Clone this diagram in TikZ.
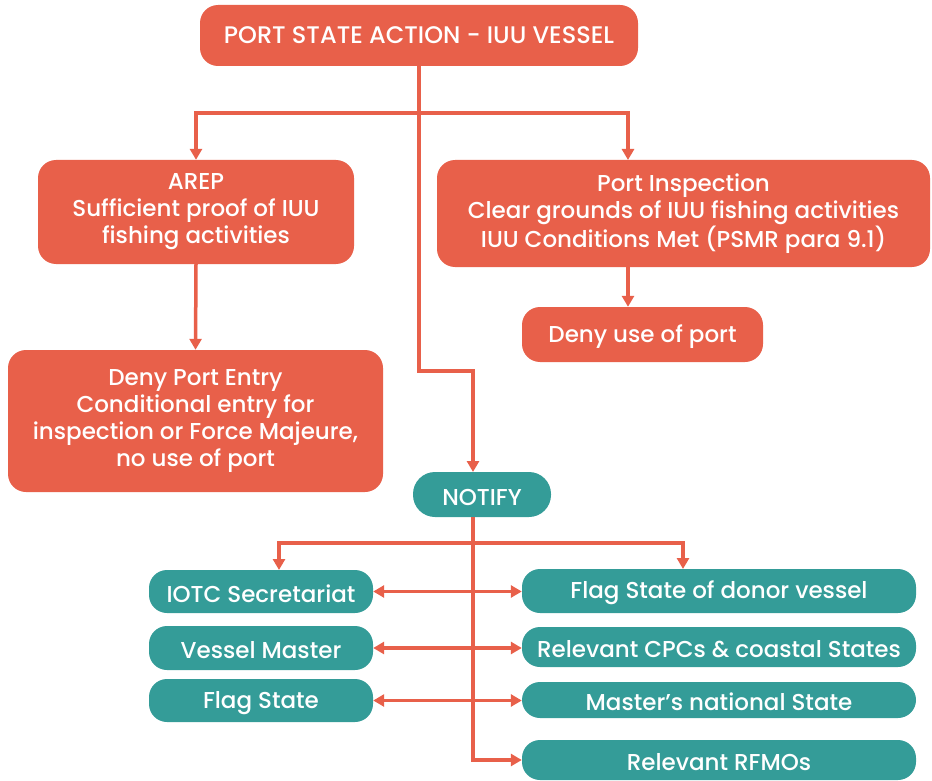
\documentclass[tikz,border=0pt]{standalone}
\usepackage{fontspec}
\setmainfont{Poppins Medium}
\usetikzlibrary{arrows.meta}
\definecolor{portred}{HTML}{E8604A}
\definecolor{notifyteal}{HTML}{349C98}

\begin{document}
\begin{tikzpicture}[x=1pt, y=-1pt, >={Triangle[length=11pt,width=12pt]},
    redbox/.style={fill=portred, text=white, rounded corners=18pt, align=center,
        inner sep=0pt, font=\fontsize{23}{27}\selectfont},
    tealbox/.style={redbox, fill=notifyteal, execute at begin node={\rule{0pt}{22pt}}},
    link/.style={portred, line width=3.5pt}]
    \useasboundingbox (0,0) rectangle (932,781);

    % port state side
    \node[redbox, minimum width=438pt, minimum height=61pt, font=\fontsize{24}{27}\selectfont] (action) at (419,35.5) {PORT STATE ACTION - IUU VESSEL};
    \node[redbox, minimum width=316pt, minimum height=104pt] (arep) at (196,212) {AREP\\Sufficient proof of IUU\\fishing activities};
    \node[redbox, minimum width=493pt, minimum height=107pt] (inspect) at (683.5,213.5) {Port Inspection\\Clear grounds of IUU fishing activities\\IUU Conditions Met (PSMR para 9.1)};
    \node[redbox, minimum width=241pt, minimum height=55pt, execute at begin node={\rule{0pt}{22pt}}] (denyuse) at (642.5,334.5) {Deny use of port};
    \node[redbox, minimum width=375pt, minimum height=142pt] (denyentry) at (195.5,421) {Deny Port Entry\\Conditional entry for\\inspection or Force Majeure,\\no use of port};

    % notification side
    \node[tealbox, minimum width=138pt, minimum height=45pt, rounded corners=22pt] (notify) at (482,494.5) {NOTIFY};
    \node[tealbox, minimum width=224pt, minimum height=43pt] (iotc) at (261,591.5) {IOTC Secretariat};
    \node[tealbox, minimum width=224pt, minimum height=44pt] (vmaster) at (261,648) {Vessel Master};
    \node[tealbox, minimum width=224pt, minimum height=43pt] (flag) at (261,700.5) {Flag State};
    \node[tealbox, minimum width=394pt, minimum height=44pt] (donor) at (719,591) {Flag State of donor vessel};
    \node[tealbox, minimum width=394pt, minimum height=40pt] (cpcs) at (719,647) {Relevant CPCs \& coastal States};
    \node[tealbox, minimum width=394pt, minimum height=36pt] (national) at (719,700) {Master’s national State};
    \node[tealbox, minimum width=394pt, minimum height=40pt] (rfmo) at (719,760) {Relevant RFMOs};

    \coordinate (split) at (419,113);
    \coordinate (inspin) at (628,160);
    \coordinate (bend) at (419,371);
    \coordinate (notifyin) at (473,472);
    \coordinate (notifyout) at (473,517);
    \coordinate (fork) at (473,543);
    \coordinate (iotcin) at (279,570);
    \coordinate (donorin) at (683,569);

    \draw[link] (action.south) -- (split);
    \draw[link,->] (split) -| (arep.north);
    \draw[link,->] (split) -| (inspin);
    \draw[link,->] (split) -- (bend) -| (notifyin);
    \draw[link,->] (arep.south) -- (denyentry.north);
    \draw[link,->] (inspect.south -| inspin) -- (denyuse.north -| inspin);

    \draw[link,<->] (iotc.east) -- (iotc.east -| donor.west);
    \draw[link,<->] (vmaster.east) -- (vmaster.east -| cpcs.west);
    \draw[link,<->] (flag.east) -- (flag.east -| national.west);
    \draw[link,->] (fork) -| (iotcin);
    \draw[link,->] (fork) -| (donorin);
    \draw[link,->] (notifyout) |- (rfmo.west);
\end{tikzpicture}
\end{document}
